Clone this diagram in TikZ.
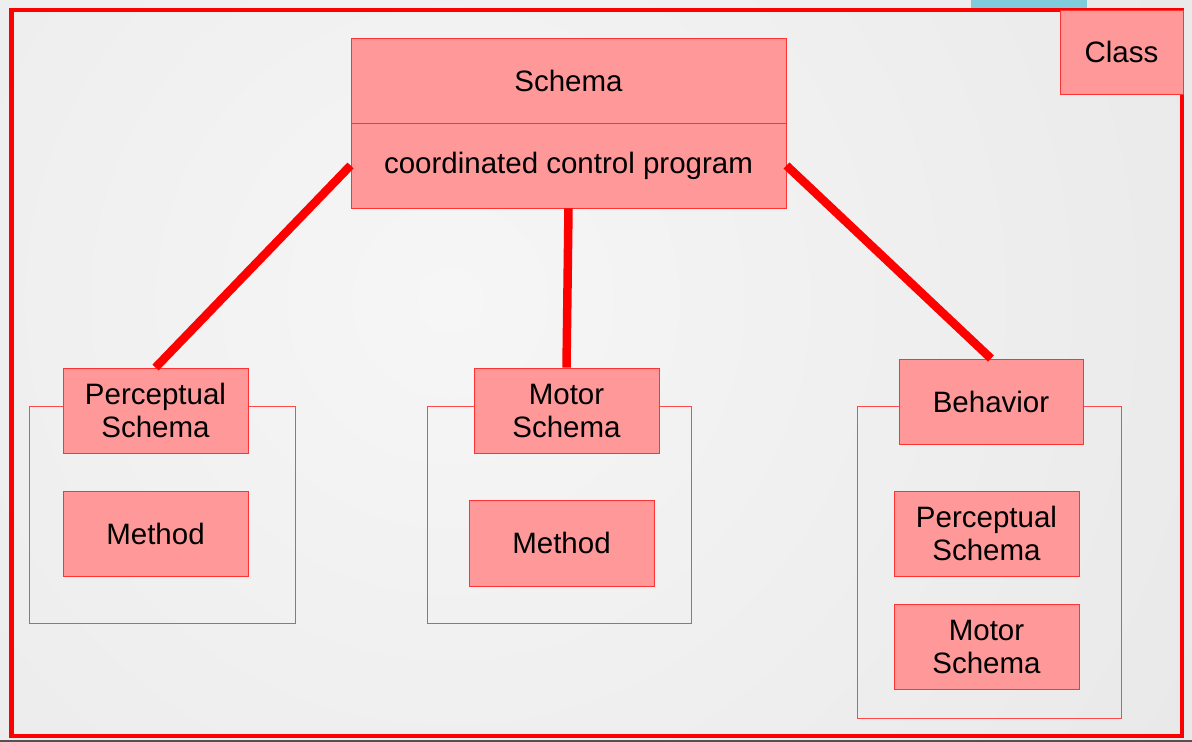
\documentclass[tikz,border=0pt]{standalone}
\usepackage{fontspec}
\setmainfont{Liberation Sans}
\definecolor{boxfill}{HTML}{FF9999}
\definecolor{boxline}{HTML}{FF3333}
\definecolor{frameline}{HTML}{FF4848}
\definecolor{tabblue}{HTML}{80CCDC}
\definecolor{bgin}{HTML}{F6F6F6}
\definecolor{bgout}{HTML}{DCDCDC}
\tikzset{
  ubox/.style={draw=boxline, fill=boxfill, line width=0.9bp, inner sep=0pt, align=center,
    font=\fontsize{29.5bp}{33bp}\selectfont, text=black},
  frame/.style={draw=frameline, line width=1bp},
  conn/.style={draw=red, line width=8.5bp},
}
\begin{document}
\begin{tikzpicture}[x=1bp,y=-1bp]
\useasboundingbox (0,0) rectangle (1192,742);
% background
\begin{scope}
\clip (0,0) rectangle (1192,742);
\shade[inner color=bgin, outer color=bgout] (-1250,-1400) rectangle (2150,2000);
\fill[black!68] (0,739.5) rectangle (1192,742);
\fill[tabblue] (971,0) rectangle (1087,8);
\end{scope}
% outer border
\draw[red, line width=4.5bp] (11.5,10) rectangle (1182,736);

% group frames
\node[frame, minimum width=265bp, minimum height=217bp, inner sep=0pt] (f1) at (162.5,514.5) {};
\node[frame, minimum width=264bp, minimum height=217bp, inner sep=0pt] (f2) at (559,514.5) {};
\node[frame, minimum width=264bp, minimum height=312bp, inner sep=0pt] (f3) at (989,562) {};

% schema class
\node[ubox, minimum width=435bp, minimum height=85bp] (sch) at (568.5,80.5) {Schema};
\node[ubox, minimum width=435bp, minimum height=85bp] (prog) at (568.5,165.5) {coordinated control program};

% class legend
\node[ubox, minimum width=123bp, minimum height=84bp] (cls) at (1121.5,52) {Class};

% left group
\node[ubox, minimum width=185bp, minimum height=85bp] (ps) at (155.5,410.5) {Perceptual\\Schema};
\node[ubox, minimum width=185bp, minimum height=85bp] (m1) at (155.5,533.5) {Method};

% middle group
\node[ubox, minimum width=185bp, minimum height=85bp] (ms) at (566.5,410.5) {Motor\\Schema};
\node[ubox, minimum width=185bp, minimum height=86bp] (m2) at (561.5,543) {Method};

% right group
\node[ubox, minimum width=184bp, minimum height=85bp] (beh) at (991,401.5) {Behavior};
\node[ubox, minimum width=185bp, minimum height=85bp] (bps) at (986.5,533.5) {Perceptual\\Schema};
\node[ubox, minimum width=185bp, minimum height=85bp] (bms) at (986.5,646.5) {Motor\\Schema};

% connectors
\draw[conn] (prog.west) -- (ps.north);
\draw[conn] (prog.south) -- (ms.north);
\draw[conn] (prog.east) -- (beh.north);
\end{tikzpicture}
\end{document}
